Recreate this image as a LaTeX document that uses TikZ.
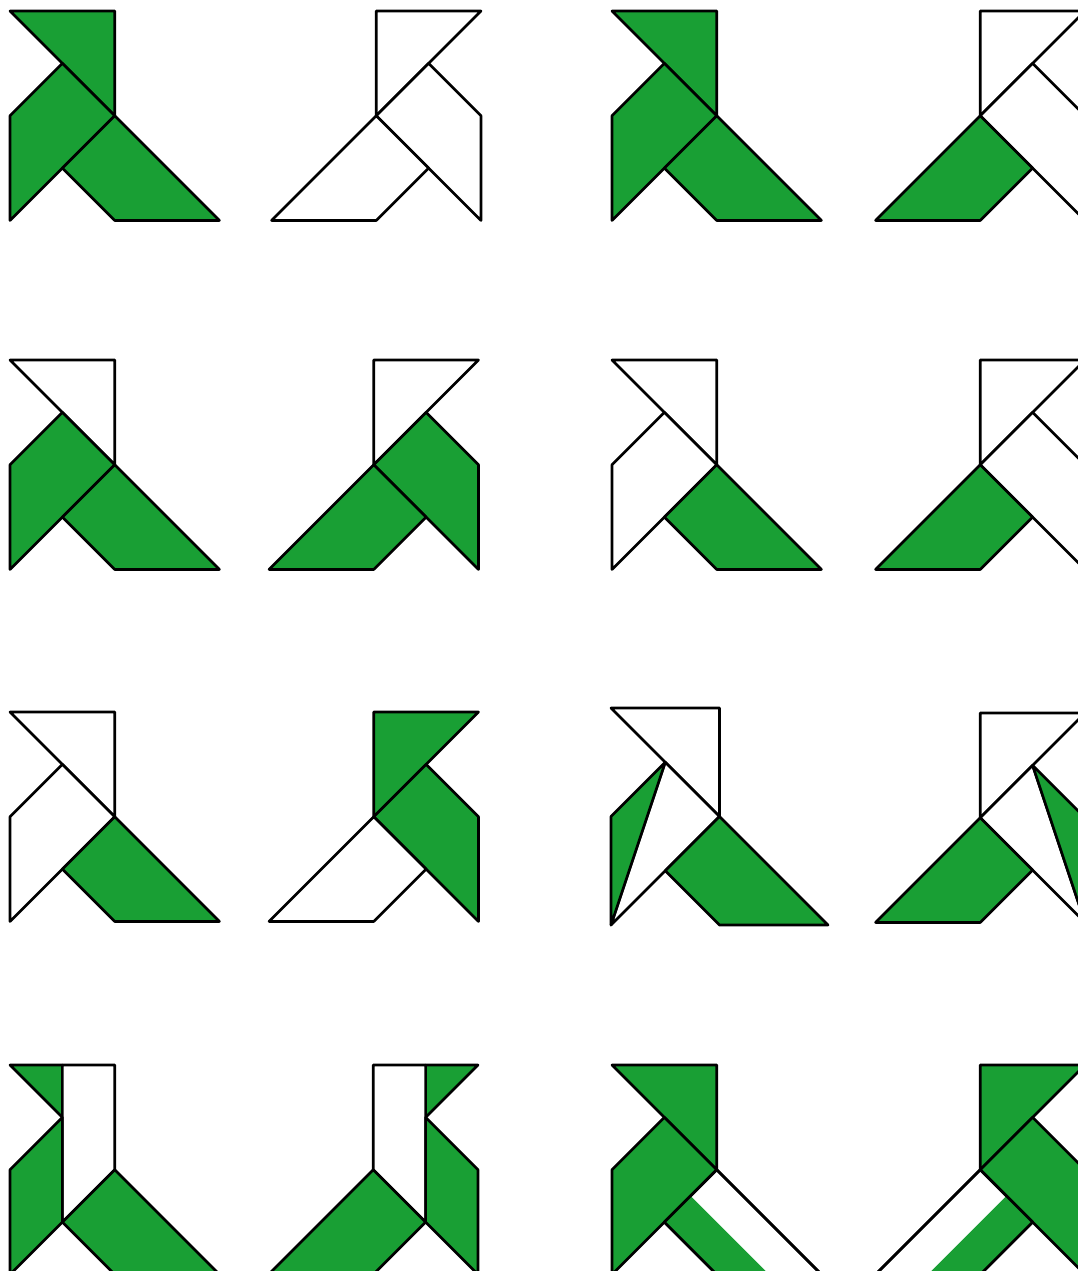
\documentclass[tikz,border=0pt]{standalone}
\usepackage{xcolor}
\usepackage{tikz}
\usetikzlibrary{calc}
\definecolor{tgreen}{RGB}{25,159,52}

% corner points of one bird, 4x4 units, y pointing down
\newcommand{\birdpts}{%
  \coordinate (hA) at (0,0);
  \coordinate (hB) at (2,0);
  \coordinate (nk) at (1,1);
  \coordinate (ct) at (2,2);
  \coordinate (bk) at (0,2);
  \coordinate (ft) at (0,4);
  \coordinate (kn) at (1,3);
  \coordinate (hl) at (2,4);
  \coordinate (tl) at (4,4);
}
% bird made of three pieces: head, body, tail
\newcommand{\bird}[4]{%
  \begin{scope}[#1]
    \birdpts
    \filldraw[#2] (hA) -- (hB) -- (ct) -- cycle;
    \filldraw[#3] (nk) -- (ct) -- (kn) -- (ft) -- (bk) -- cycle;
    \filldraw[#4] (ct) -- (tl) -- (hl) -- (kn) -- cycle;
  \end{scope}}

\begin{document}
\begin{tikzpicture}[
    x=0.1mm, y=-0.1mm,
    edge/.style={draw=black, line width=0.75pt, line join=round},
    filled/.style={edge, fill=tgreen},
    blank/.style={edge, fill=white},
    facel/.style 2 args={shift={(#1,#2)}, scale=52.5},
    facer/.style 2 args={shift={(#1+210,#2)}, xscale=-52.5, yscale=52.5}
]
    \useasboundingbox (0,0) rectangle (1078,1271);
    \clip (0,0) rectangle (1078,1271);

    % row 1
    \bird{facel={10}{11}}{filled}{filled}{filled}
    \bird{facer={271}{11}}{blank}{blank}{blank}
    \bird{facel={612}{11}}{filled}{filled}{filled}
    \bird{facer={875}{11}}{blank}{blank}{filled}

    % row 2
    \bird{facel={10}{360}}{blank}{filled}{filled}
    \bird{facer={268.5}{360}}{blank}{filled}{filled}
    \bird{facel={612}{360}}{blank}{blank}{filled}
    \bird{facer={875}{360}}{blank}{blank}{filled}

    % row 3
    \bird{facel={10}{712}}{blank}{blank}{filled}
    \bird{facer={268.5}{712}}{filled}{filled}{blank}
    \begin{scope}[shift={(611,708)}, scale=54.3]
        \birdpts
        \filldraw[blank] (hA) -- (hB) -- (ct) -- cycle;
        \filldraw[blank] (nk) -- (ct) -- (ft) -- cycle;
        \filldraw[filled] (nk) -- (ft) -- (bk) -- cycle;
        \filldraw[filled] (ct) -- (tl) -- (hl) -- (kn) -- cycle;
    \end{scope}
    \begin{scope}[facer={875}{713}]
        \birdpts
        \filldraw[blank] (hA) -- (hB) -- (ct) -- cycle;
        \filldraw[blank] (nk) -- (ct) -- (ft) -- cycle;
        \filldraw[filled] (nk) -- (ft) -- (bk) -- cycle;
        \filldraw[filled] (ct) -- (tl) -- (hl) -- (kn) -- cycle;
    \end{scope}

    % row 4
    \begin{scope}[facel={10}{1065}]
        \birdpts
        \coordinate (hm) at (1,0);
        \filldraw[filled] (hA) -- (hm) -- (nk) -- cycle;
        \filldraw[blank] (hm) -- (hB) -- (ct) -- (kn) -- cycle;
        \filldraw[filled] (nk) -- (kn) -- (ft) -- (bk) -- cycle;
        \filldraw[filled] (ct) -- (tl) -- (hl) -- (kn) -- cycle;
    \end{scope}
    \begin{scope}[facer={268}{1065}]
        \birdpts
        \coordinate (hm) at (1,0);
        \filldraw[filled] (hA) -- (hm) -- (nk) -- cycle;
        \filldraw[blank] (hm) -- (hB) -- (ct) -- (kn) -- cycle;
        \filldraw[filled] (nk) -- (kn) -- (ft) -- (bk) -- cycle;
        \filldraw[filled] (ct) -- (tl) -- (hl) -- (kn) -- cycle;
    \end{scope}
    \begin{scope}[facel={612}{1065}]
        \birdpts
        \coordinate (sa) at (1.5,2.5);
        \coordinate (sb) at (3,4);
        \filldraw[filled] (hA) -- (hB) -- (ct) -- cycle;
        \filldraw[filled] (nk) -- (ct) -- (kn) -- (ft) -- (bk) -- cycle;
        \filldraw[blank] (ct) -- (tl) -- (hl) -- (kn) -- cycle;
        \fill[tgreen] (sa) -- (sb) -- (hl) -- (kn) -- cycle;
        \draw[edge] (ct) -- (tl) -- (hl) -- (kn) -- cycle;
    \end{scope}
    \begin{scope}[facer={875}{1065}]
        \birdpts
        \coordinate (sa) at (1.5,2.5);
        \coordinate (sb) at (3,4);
        \filldraw[filled] (hA) -- (hB) -- (ct) -- cycle;
        \filldraw[filled] (nk) -- (ct) -- (kn) -- (ft) -- (bk) -- cycle;
        \filldraw[blank] (ct) -- (tl) -- (hl) -- (kn) -- cycle;
        \fill[tgreen] (sa) -- (sb) -- (hl) -- (kn) -- cycle;
        \draw[edge] (ct) -- (tl) -- (hl) -- (kn) -- cycle;
    \end{scope}
\end{tikzpicture}
\end{document}
